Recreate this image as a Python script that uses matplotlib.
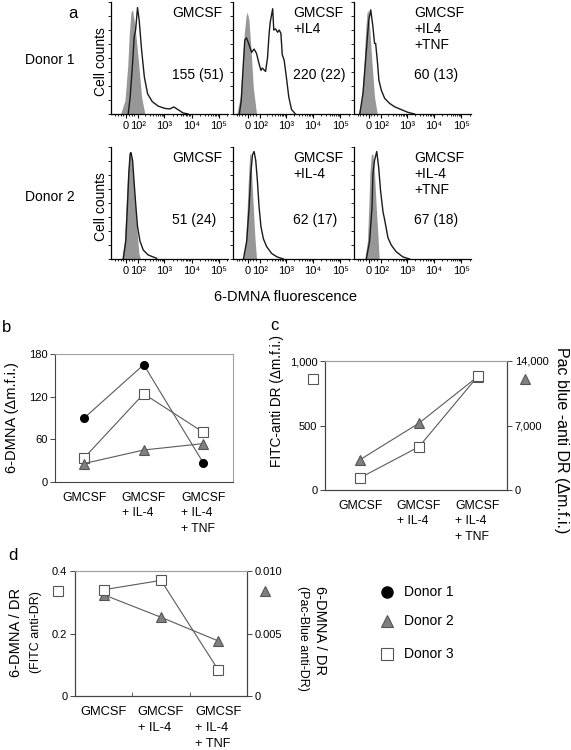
import numpy as np
import matplotlib
matplotlib.use('Agg')
import matplotlib.pyplot as plt
from matplotlib.lines import Line2D

plt.rcParams['font.family'] = ['Liberation Sans', 'DejaVu Sans']

W, H = 571, 750

# ---- panel a: histograms (x in decades, 10^2 -> 2 ; y in % of max) ----
d1_gm_ctrl_u = [1.40, 1.56, 1.66, 1.72, 1.78, 1.84, 1.93, 2.05, 2.17, 2.29]
d1_gm_ctrl_y = [0, 12, 42, 72, 91, 93, 78, 48, 15, 0]
d1_gm_u = [1.68, 1.75, 1.83, 1.90, 1.95, 2.02, 2.08, 2.17, 2.27, 2.39, 2.56, 2.78, 3.02, 3.20, 3.35, 3.50, 3.68, 3.87]
d1_gm_y = [0, 15, 42, 69, 75, 95, 84, 57, 33, 18, 11, 7, 5, 4.5, 6.3, 3.9, 1, 0]

d1_il4_ctrl_u = [1.21, 1.33, 1.41, 1.48, 1.55, 1.59, 1.65, 1.73, 1.81, 1.93]
d1_il4_ctrl_y = [0, 15, 42, 72, 88, 91, 84, 57, 24, 0]
d1_il4_u = [1.30, 1.37, 1.44, 1.50, 1.56, 1.64, 1.75, 1.84, 1.93, 2.02, 2.09, 2.14, 2.26, 2.33, 2.39,
            2.43, 2.52, 2.56, 2.62, 2.70, 2.76, 2.82, 2.87, 2.94, 3.02, 3.11, 3.21, 3.35]
d1_il4_y = [0, 12, 42, 66, 68, 63, 55, 58, 54, 45, 39, 41, 38, 50, 72,
            82, 94, 75, 76, 73, 75, 72, 53, 48, 33, 15, 4, 0]

d1_tnf_ctrl_u = [1.22, 1.34, 1.43, 1.49, 1.54, 1.58, 1.64, 1.72, 1.82, 1.92]
d1_tnf_ctrl_y = [0, 12, 42, 72, 90, 93, 78, 48, 15, 0]
d1_tnf_u = [1.28, 1.40, 1.52, 1.61, 1.68, 1.76, 1.82, 1.86, 1.92, 1.98, 2.07, 2.19, 2.37, 2.55, 2.79, 3.04, 3.28]
d1_tnf_y = [0, 19, 57, 84, 93, 78, 63, 63, 48, 30, 21, 14, 9.5, 6.5, 4, 1.5, 0]

d2_gm_ctrl_u = [1.44, 1.54, 1.60, 1.66, 1.72, 1.77, 1.83, 1.90, 1.99, 2.07, 2.13]
d2_gm_ctrl_y = [0, 16, 47, 76, 93, 94, 85, 61, 29, 5, 0]
d2_gm_u = [1.50, 1.59, 1.65, 1.70, 1.75, 1.78, 1.84, 1.90, 1.96, 2.02, 2.11, 2.23, 2.41, 2.72]
d2_gm_y = [0, 16, 47, 76, 94, 95, 88, 67, 47, 29, 16, 8, 3.6, 0.6]

d2_il4_ctrl_u = [1.45, 1.53, 1.59, 1.64, 1.68, 1.72, 1.75, 1.81, 1.87, 1.93]
d2_il4_ctrl_y = [0, 16, 47, 76, 94, 93, 76, 47, 19, 0]
d2_il4_u = [1.45, 1.57, 1.66, 1.72, 1.78, 1.84, 1.90, 1.96, 2.02, 2.09, 2.18, 2.30, 2.48, 2.67, 2.91]
d2_il4_y = [0, 16, 47, 76, 93, 96, 88, 70, 47, 29, 18, 11, 5, 2, 0]

d2_tnf_ctrl_u = [1.46, 1.56, 1.61, 1.65, 1.70, 1.76, 1.82, 1.88, 1.95, 1.99]
d2_tnf_ctrl_y = [0, 16, 47, 76, 93, 94, 76, 47, 19, 0]
d2_tnf_u = [1.52, 1.64, 1.73, 1.76, 1.82, 1.90, 1.97, 2.04, 2.13, 2.19, 2.31, 2.43, 2.61, 2.85, 3.10]
d2_tnf_y = [0, 16, 47, 76, 88, 96, 82, 61, 42, 35, 19, 12.5, 6.5, 2, 0]

hist_ticks = ['0', '10²', '10³', '10⁴', '10⁵']
row1_labels = ['GMCSF', 'GMCSF\n+IL4', 'GMCSF\n+IL4\n+TNF']
row2_labels = ['GMCSF', 'GMCSF\n+IL-4', 'GMCSF\n+IL-4\n+TNF']
row1_values = ['155 (51)', '220 (22)', '60 (13)']
row2_values = ['51 (24)', '62 (17)', '67 (18)']

# ---- panels b-d ----
categories = ['GMCSF', 'GMCSF\n+ IL-4', 'GMCSF\n+ IL-4\n+ TNF']
b_donor1 = [90, 165, 27]
b_donor2 = [26, 45, 54]
b_donor3 = [34, 124, 70]

c_donor3_fitc = [95, 335, 880]
c_donor2_pac = [3300, 7250, 12300]

d_donor3_fitc = [0.34, 0.37, 0.083]
d_donor2_pac = [0.0081, 0.0063, 0.0044]

fig = plt.figure(figsize=(W / 100, H / 100), dpi=100)


def fax(l, t, w, h):
    return fig.add_axes([l / W, 1 - (t + h) / H, w / W, h / H])


def ftext(x, y, s, **kw):
    kw.setdefault('ha', 'center')
    kw.setdefault('va', 'center')
    fig.text(x / W, 1 - y / H, s, **kw)


def fmark(x, y, **kw):
    fig.add_artist(Line2D([x / W], [1 - y / H], transform=fig.transFigure, **kw))


gray_fill = '#979797'
line_col = '#1a1a1a'

hists = [
    [(d1_gm_ctrl_u, d1_gm_ctrl_y, d1_gm_u, d1_gm_y),
     (d1_il4_ctrl_u, d1_il4_ctrl_y, d1_il4_u, d1_il4_y),
     (d1_tnf_ctrl_u, d1_tnf_ctrl_y, d1_tnf_u, d1_tnf_y)],
    [(d2_gm_ctrl_u, d2_gm_ctrl_y, d2_gm_u, d2_gm_y),
     (d2_il4_ctrl_u, d2_il4_ctrl_y, d2_il4_u, d2_il4_y),
     (d2_tnf_ctrl_u, d2_tnf_ctrl_y, d2_tnf_u, d2_tnf_y)],
]
row_tops = [2, 147]
col_lefts = [111, 232.5, 353.5]
minor_u = [1.2, 1.3, 1.4, 1.5, 1.7, 1.8, 1.9] + [d + np.log10(k) for d in [2, 3, 4] for k in range(2, 10)] + [5.3]

for r in range(2):
    labels = row1_labels if r == 0 else row2_labels
    values = row1_values if r == 0 else row2_values
    for c in range(3):
        cu, cy, bu, by = hists[r][c]
        ax = fax(col_lefts[c], row_tops[r], 117, 112)
        ax.fill_between(cu, 0, cy, color=gray_fill, lw=0)
        ax.plot(bu, by, color=line_col, lw=1.0)
        ax.set_xlim(1.05, 5.33)
        ax.set_ylim(0, 100)
        for s in ['top', 'right']:
            ax.spines[s].set_visible(False)
        for s in ['left', 'bottom']:
            ax.spines[s].set_linewidth(0.9)
        ax.set_xticks([1.6, 2.05, 3, 4, 5])
        ax.set_xticklabels(hist_ticks, fontsize=8)
        ax.set_xticks(minor_u, minor=True)
        ax.set_yticks([])
        ax.set_yticks(np.arange(0, 101, 12.5), minor=True)
        ax.tick_params(axis='x', which='major', length=3, width=0.8, pad=2)
        ax.tick_params(axis='x', which='minor', length=1.6, width=0.6)
        ax.tick_params(axis='y', which='minor', length=2.5, width=0.6)
        ax.patch.set_alpha(0)
        x0 = col_lefts[c] + 61
        ftext(x0, row_tops[r] + 4, labels[c], ha='left', va='top', fontsize=10, linespacing=1.2)
        ftext(x0, row_tops[r] + 73, values[c], ha='left', fontsize=10)
    ftext(101, row_tops[r] + 60, 'Cell counts', rotation=90, fontsize=10)

ftext(50, 60, 'Donor 1', fontsize=10)
ftext(50, 197, 'Donor 2', fontsize=10)
ftext(73, 13, 'a', fontsize=12)
ftext(286, 297, '6-DMNA fluorescence', fontsize=10.5)

x = np.arange(len(categories))
dark_sp = '#444444'
light_sp = '#a0a0a0'
ln = dict(color='#5a5a5a', lw=0.8)
m1 = dict(marker='o', ms=5.5, mfc='black', mec='black')
m2 = dict(marker='^', ms=7, mfc='#808080', mec='#555555', mew=0.8)
m3 = dict(marker='s', ms=6.5, mfc='white', mec='#555555', mew=0.8)


def style_box(ax, right_dark=False, fs=8.8, ls=1.4):
    ax.spines['left'].set_color(dark_sp)
    ax.spines['bottom'].set_color(dark_sp)
    ax.spines['top'].set_color(light_sp)
    ax.spines['right'].set_color(dark_sp if right_dark else light_sp)
    for s in ax.spines.values():
        s.set_linewidth(0.8)
    ax.set_xticks(x)
    ax.set_xticklabels(categories, fontsize=fs, va='top', multialignment='left', linespacing=ls)
    ax.tick_params(axis='x', length=0, pad=7)
    ax.tick_params(axis='y', labelsize=8, length=3.5, width=0.7, color=dark_sp, pad=2)


# ---- b ----
ax_b = fax(55, 354, 178, 128)
ax_b.plot(x, b_donor1, **ln, **m1, zorder=3)
ax_b.plot(x, b_donor3, **ln, **m3, zorder=3)
ax_b.plot(x, b_donor2, **ln, **m2, zorder=3)
ax_b.set_xlim(-0.49, 2.5)
ax_b.set_ylim(0, 180)
ax_b.set_yticks([0, 60, 120, 180])
style_box(ax_b)
ftext(12, 418, '6-DMNA (\u0394m.f.i.)', rotation=90, fontsize=10.5)
ftext(7, 328, 'b', fontsize=12)

# ---- c ----
ax_c = fax(325, 361, 182, 129)
ax_c2 = ax_c.twinx()
ax_c2.plot(x, c_donor2_pac, **ln, **m2, zorder=3)
ax_c.plot(x, c_donor3_fitc, **ln, **m3, zorder=3)
ax_c.set_zorder(ax_c2.get_zorder() + 1)
ax_c.patch.set_visible(False)
ax_c.set_xlim(-0.6, 2.5)
ax_c.set_ylim(0, 1000)
ax_c2.set_ylim(0, 14000)
ax_c.set_yticks([0, 500, 1000])
ax_c.set_yticklabels(['0', '500', '1,000'])
ax_c2.set_yticks([0, 7000, 14000])
ax_c2.set_yticklabels(['0', '7,000', '14,000'])
style_box(ax_c, right_dark=True)
style_box(ax_c2, right_dark=True)
ftext(277, 401, 'FITC-anti DR (\u0394m.f.i.)', rotation=90, fontsize=9.8)
ftext(562, 440, 'Pac blue -anti DR (\u0394m.f.i.)', rotation=270, fontsize=11.5)
fmark(313, 379, **m3)
fmark(525, 379, **m2)
ftext(274, 326, 'c', fontsize=12)

# ---- d ----
ax_d = fax(75, 571, 172, 125)
ax_d2 = ax_d.twinx()
ax_d2.plot(x, d_donor2_pac, **ln, **m2, zorder=3)
ax_d.plot(x, d_donor3_fitc, **ln, **m3, zorder=3)
ax_d.set_zorder(ax_d2.get_zorder() + 1)
ax_d.patch.set_visible(False)
ax_d.set_xlim(-0.5, 2.5)
ax_d.set_ylim(0, 0.4)
ax_d2.set_ylim(0, 0.010)
ax_d.set_yticks([0, 0.2, 0.4])
ax_d.set_yticklabels(['0', '0.2', '0.4'])
ax_d2.set_yticks([0, 0.005, 0.010])
ax_d2.set_yticklabels(['0', '0.005', '0.010'])
style_box(ax_d, right_dark=True, fs=9.3, ls=1.45)
style_box(ax_d2, right_dark=True, fs=9.3, ls=1.45)
ax_d.set_xticks([0.5, 1.5], minor=True)
ax_d.tick_params(axis='x', which='minor', direction='in', length=3, color=dark_sp)
ftext(16, 632, '6-DMNA / DR', rotation=90, fontsize=10.5)
ftext(36, 632, '(FITC anti-DR)', rotation=90, fontsize=9)
ftext(320, 586, '6-DMNA / DR', rotation=270, va='top', fontsize=10.5)
ftext(303, 586, '(Pac-Blue anti-DR)', rotation=270, va='top', fontsize=9)
fmark(58, 591, **m3)
fmark(265, 591, **m2)
ftext(13, 555, 'd', fontsize=12)

# legend
leg_y = [592, 621, 654]
leg_m = [dict(m1, ms=8), dict(m2, ms=9), dict(m3, ms=8)]
for yy, mk, name in zip(leg_y, leg_m, ['Donor 1', 'Donor 2', 'Donor 3']):
    fmark(387, yy, **mk)
    ftext(404, yy, name, ha='left', fontsize=10)

fig.savefig('out.png', dpi=100)
